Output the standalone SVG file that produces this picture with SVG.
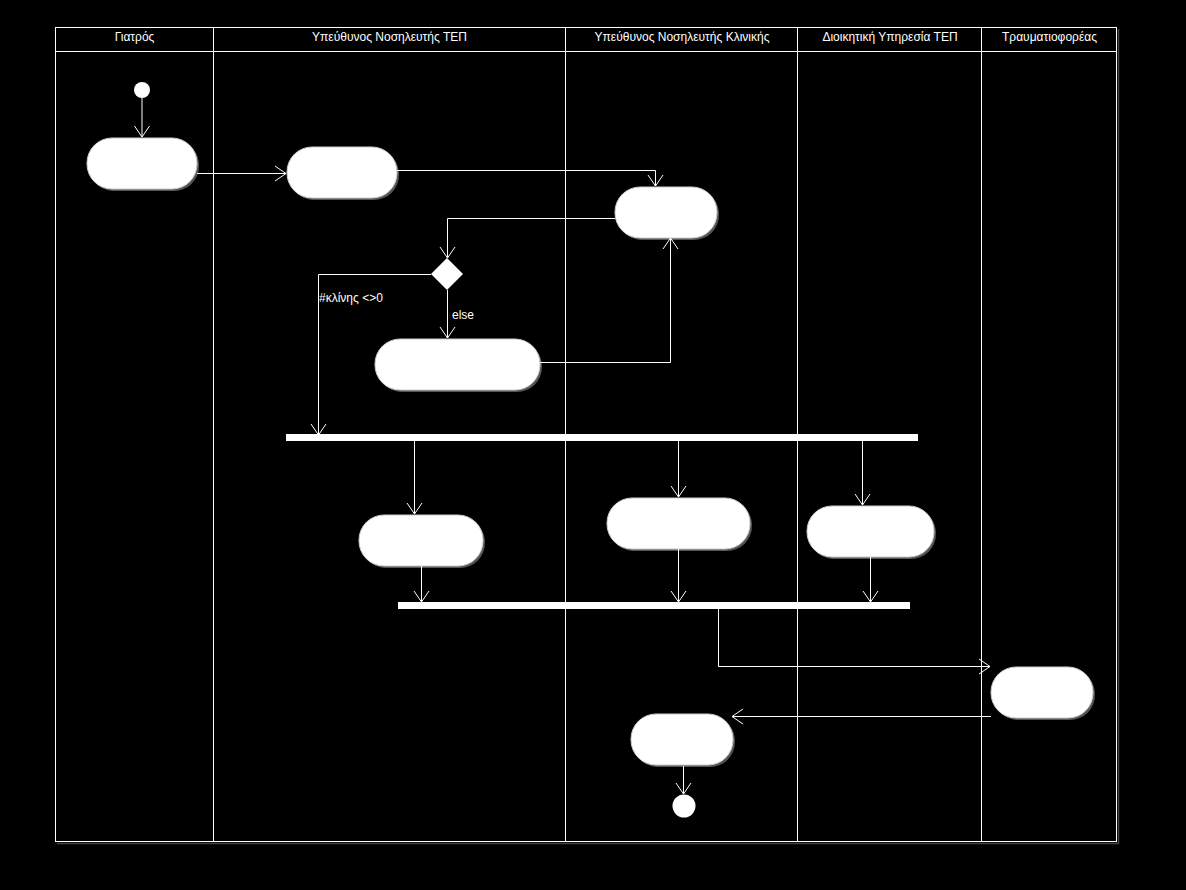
<svg xmlns="http://www.w3.org/2000/svg" width="1186" height="890" viewBox="0 0 1186 890">
<style>
.bg{fill:#000}
.frame{fill:none;stroke:#fff;stroke-width:1}
.shadowline{fill:none;stroke:#444;stroke-width:1.5}
.hdr{font-family:"Liberation Sans",Arial,sans-serif;font-size:12px;fill:#fff;text-anchor:middle}
.lbl{font-family:"Liberation Sans",Arial,sans-serif;font-size:12px;fill:#fff}
.act{fill:#fff;stroke:#ccc;stroke-width:1}
.shd{fill:#555}
.bar{fill:#fff}
.conn{fill:none;stroke:#fff;stroke-width:1}
.dot{fill:#fff}
</style>
<defs>
<marker id="arr" markerUnits="userSpaceOnUse" viewBox="-13 -9 15 18" markerWidth="15" markerHeight="18" refX="0" refY="0" orient="auto">
<path d="M-11,-7.5 L0,0 L-11,7.5" fill="none" stroke="#fff" stroke-width="1"/>
</marker>
</defs>
<rect class="bg" x="0" y="0" width="1186" height="890"/>
<g id="swimlanes">
<path class="shadowline" d="M57,843.5 H1118.5 V29"/>
<rect class="frame" x="55.5" y="27.5" width="1061" height="814"/>
<line class="frame" x1="55" y1="51.5" x2="1117" y2="51.5"/>
<line class="frame" x1="213.5" y1="27" x2="213.5" y2="842"/>
<line class="frame" x1="565.5" y1="27" x2="565.5" y2="842"/>
<line class="frame" x1="797.5" y1="27" x2="797.5" y2="842"/>
<line class="frame" x1="981.5" y1="27" x2="981.5" y2="842"/>
<text class="hdr" x="134.5" y="41">Γιατρός</text>
<text class="hdr" x="389.5" y="41">Υπεύθυνος Νοσηλευτής ΤΕΠ</text>
<text class="hdr" x="682" y="41">Υπεύθυνος Νοσηλευτής Κλινικής</text>
<text class="hdr" x="890" y="41">Διοικητική Υπηρεσία ΤΕΠ</text>
<text class="hdr" x="1049.5" y="41">Τραυματιοφορέας</text>
</g>
<g id="start"><circle class="dot" cx="142" cy="90" r="8"/></g>
<g id="a1"><rect class="shd" x="89" y="140" width="110" height="51" rx="25"/><rect class="act" x="87" y="138" width="110" height="51" rx="25"/></g>
<g id="a2"><rect class="shd" x="289" y="149" width="110" height="51" rx="25"/><rect class="act" x="287" y="147" width="110" height="51" rx="25"/></g>
<g id="a3"><rect class="shd" x="617" y="189" width="102" height="51" rx="25"/><rect class="act" x="615" y="187" width="102" height="51" rx="25"/></g>
<g id="decision"><path class="dot" d="M447,258 L463,274 L447,290 L431,274 Z"/></g>
<g id="a4"><rect class="shd" x="377" y="341" width="165" height="51" rx="25"/><rect class="act" x="375" y="339" width="165" height="51" rx="25"/></g>
<g id="fork1"><rect class="bar" x="286" y="434" width="632" height="7"/></g>
<g id="a5"><rect class="shd" x="361" y="517" width="124" height="51" rx="25"/><rect class="act" x="359" y="515" width="124" height="51" rx="25"/></g>
<g id="a6"><rect class="shd" x="609" y="500" width="143" height="51" rx="25"/><rect class="act" x="607" y="498" width="143" height="51" rx="25"/></g>
<g id="a7"><rect class="shd" x="809" y="508" width="127" height="51" rx="25"/><rect class="act" x="807" y="506" width="127" height="51" rx="25"/></g>
<g id="join1"><rect class="bar" x="398" y="602" width="512" height="7"/></g>
<g id="a8"><rect class="shd" x="993" y="669" width="102" height="51" rx="25"/><rect class="act" x="991" y="667" width="102" height="51" rx="25"/></g>
<g id="a9"><rect class="shd" x="633" y="716" width="102" height="51" rx="25"/><rect class="act" x="631" y="714" width="102" height="51" rx="25"/></g>
<g id="end"><circle class="dot" cx="684" cy="806" r="11.5"/></g>
<g id="connectors">
<path class="conn" marker-end="url(#arr)" d="M142,98 V137"/>
<path class="conn" marker-end="url(#arr)" d="M197,173.5 H286"/>
<path class="conn" marker-end="url(#arr)" d="M397,170.5 H655.5 V186"/>
<path class="conn" marker-end="url(#arr)" d="M615,218.5 H447.5 V258"/>
<path class="conn" marker-end="url(#arr)" d="M431,274.5 H318.5 V435"/>
<path class="conn" marker-end="url(#arr)" d="M447.5,290 V338"/>
<path class="conn" marker-end="url(#arr)" d="M540,362.5 H670.5 V238"/>
<path class="conn" marker-end="url(#arr)" d="M414.5,441 V514"/>
<path class="conn" marker-end="url(#arr)" d="M678.5,441 V497"/>
<path class="conn" marker-end="url(#arr)" d="M862.5,441 V505"/>
<path class="conn" marker-end="url(#arr)" d="M421.5,566 V602"/>
<path class="conn" marker-end="url(#arr)" d="M678.5,549 V602"/>
<path class="conn" marker-end="url(#arr)" d="M870.5,557 V602"/>
<path class="conn" marker-end="url(#arr)" d="M718.5,609 V666.5 H990"/>
<path class="conn" marker-end="url(#arr)" d="M991,716.5 H732"/>
<path class="conn" marker-end="url(#arr)" d="M683.5,766 V794"/>
<text class="lbl" x="319" y="302">#κλίνης &lt;&gt;0</text>
<text class="lbl" x="452" y="319">else</text>
</g>
</svg>
